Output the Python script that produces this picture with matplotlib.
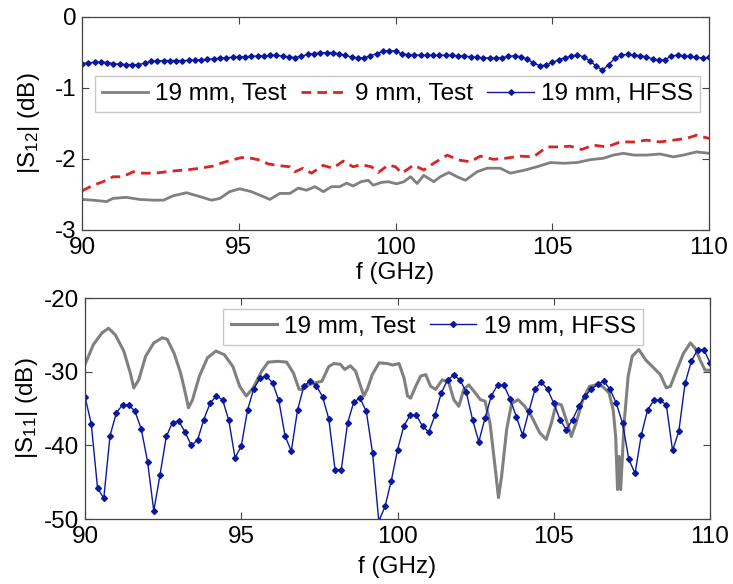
import numpy as np
import matplotlib
matplotlib.use("Agg")
import matplotlib.pyplot as plt

plt.rcParams["font.family"] = ["Liberation Sans", "DejaVu Sans"]
plt.rcParams["axes.unicode_minus"] = False
plt.rcParams["mathtext.fontset"] = "custom"
plt.rcParams["mathtext.rm"] = "Liberation Sans"
plt.rcParams["mathtext.it"] = "Liberation Sans"

# --------------------------------------------------
# |S12| data (dB)
# --------------------------------------------------
f_s12_19_test = [90.0, 90.35, 90.78, 90.99, 91.41, 91.84, 92.27, 92.6, 92.9, 93.33,
                 93.76, 94.13, 94.4, 94.71, 95.03, 95.4, 95.78, 95.99, 96.31, 96.63,
                 96.9, 97.16, 97.43, 97.7, 97.96, 98.22, 98.44, 98.65, 98.9, 99.13,
                 99.29, 99.55, 99.77, 100.03, 100.27, 100.48, 100.69, 100.9, 101.22, 101.43,
                 101.7, 101.96, 102.23, 102.6, 102.92, 103.34, 103.66, 104.09, 104.51, 104.94,
                 105.36, 105.79, 106.21, 106.63, 106.95, 107.27, 107.6, 108.0, 108.44, 108.86,
                 109.18, 109.6, 110.0]
s12_19_test = [-2.57, -2.58, -2.60, -2.555, -2.54, -2.57, -2.58, -2.58, -2.52, -2.475,
               -2.53, -2.58, -2.555, -2.46, -2.42, -2.46, -2.53, -2.57, -2.485, -2.485,
               -2.41, -2.44, -2.39, -2.46, -2.39, -2.39, -2.34, -2.38, -2.32, -2.30,
               -2.37, -2.33, -2.32, -2.35, -2.32, -2.25, -2.345, -2.23, -2.32, -2.25,
               -2.19, -2.25, -2.30, -2.18, -2.13, -2.13, -2.20, -2.16, -2.11, -2.05,
               -2.06, -2.05, -2.01, -1.99, -1.945, -1.92, -1.945, -1.945, -1.93, -1.97,
               -1.945, -1.90, -1.92]

f_s12_9_test = [90.0, 90.35, 90.67, 90.99, 91.3, 91.63, 91.95, 92.32, 92.7, 93.0,
                93.33, 93.76, 94.18, 94.5, 94.82, 95.09, 95.4, 95.67, 95.94, 96.31,
                96.63, 96.79, 97.05, 97.32, 97.69, 98.0, 98.33, 98.65, 98.9, 99.23,
                99.45, 99.77, 100.0, 100.2, 100.58, 100.9, 101.22, 101.65, 102.02, 102.39,
                102.7, 103.13, 103.5, 103.98, 104.4, 104.83, 105.2, 105.57, 105.94, 106.31,
                106.74, 107.17, 107.6, 108.0, 108.44, 108.86, 109.28, 109.6, 110.0]
s12_9_test = [-2.45, -2.37, -2.32, -2.25, -2.25, -2.18, -2.20, -2.20, -2.18, -2.165,
              -2.155, -2.13, -2.10, -2.05, -2.01, -1.98, -1.99, -2.015, -2.07, -2.095,
              -2.11, -2.18, -2.13, -2.20, -2.09, -2.13, -2.03, -2.11, -2.08, -2.11,
              -2.19, -2.085, -2.11, -2.20, -2.086, -2.155, -2.06, -1.946, -2.015, -2.04,
              -1.96, -2.005, -1.99, -1.96, -1.97, -1.83, -1.83, -1.82, -1.866, -1.805,
              -1.83, -1.76, -1.76, -1.735, -1.76, -1.735, -1.71, -1.665, -1.71]

# HFSS is sampled every 0.2 GHz
f_hfss = np.linspace(90, 110, 101)
s12_19_hfss = [-0.656, -0.645, -0.638, -0.633, -0.642, -0.656, -0.665, -0.670, -0.672, -0.670,
               -0.650, -0.624, -0.618, -0.614, -0.614, -0.614, -0.614, -0.612, -0.608, -0.603,
               -0.598, -0.590, -0.580, -0.574, -0.568, -0.563, -0.560, -0.555, -0.550, -0.546,
               -0.542, -0.540, -0.550, -0.562, -0.572, -0.550, -0.528, -0.515, -0.506, -0.502,
               -0.502, -0.520, -0.540, -0.563, -0.575, -0.575, -0.545, -0.515, -0.485, -0.472,
               -0.480, -0.520, -0.530, -0.535, -0.538, -0.540, -0.540, -0.540, -0.540, -0.542,
               -0.545, -0.550, -0.560, -0.568, -0.575, -0.577, -0.577, -0.572, -0.555, -0.545,
               -0.560, -0.590, -0.650, -0.685, -0.680, -0.640, -0.605, -0.575, -0.550, -0.535,
               -0.560, -0.620, -0.690, -0.750, -0.670, -0.580, -0.540, -0.525, -0.535, -0.545,
               -0.560, -0.590, -0.612, -0.605, -0.545, -0.540, -0.545, -0.555, -0.570, -0.577,
               -0.570]

# --------------------------------------------------
# |S11| data (dB)
# --------------------------------------------------
f_s11_19_test = [90.0, 90.27, 90.54, 90.75, 90.97, 91.24, 91.45, 91.56, 91.72, 91.94,
                 92.2, 92.47, 92.63, 92.85, 93.06, 93.23, 93.31, 93.44, 93.66, 93.92,
                 94.19, 94.46, 94.73, 94.95, 95.16, 95.38, 95.65, 95.86, 96.18, 96.45,
                 96.67, 96.85, 96.96, 97.15, 97.37, 97.58, 97.8, 97.96, 98.17, 98.31,
                 98.49, 98.66, 98.82, 98.92, 99.03, 99.19, 99.41, 99.68, 99.84, 100.05,
                 100.21, 100.32, 100.42, 100.58, 100.74, 100.9, 101.06, 101.22, 101.43, 101.64,
                 101.8, 101.96, 102.12, 102.28, 102.49, 102.65, 102.8, 102.96, 103.12, 103.23,
                 103.33, 103.49, 103.65, 103.86, 104.07, 104.29, 104.55, 104.76, 104.92, 105.08,
                 105.24, 105.45, 105.56, 105.71, 105.93, 106.14, 106.35, 106.56, 106.77, 106.9,
                 106.98, 107.04, 107.09, 107.14, 107.25, 107.38, 107.51, 107.72, 107.94, 108.2,
                 108.41, 108.6, 108.73, 108.94, 109.15, 109.37, 109.52, 109.68, 109.84, 110.0]
s11_19_test = [-29.0, -26.3, -24.75, -24.1, -25.0, -27.2, -30.2, -32.2, -31.1, -27.9,
               -26.1, -25.4, -25.6, -27.5, -30.2, -33.3, -34.9, -33.8, -30.6, -28.1,
               -27.2, -27.7, -29.3, -32.0, -33.3, -32.2, -29.95, -28.7, -28.6, -28.7,
               -30.2, -32.4, -32.4, -31.8, -31.5, -31.3, -29.3, -28.9, -29.0, -29.7,
               -29.2, -29.95, -32.0, -33.3, -32.4, -30.4, -28.8, -28.9, -29.1, -28.9,
               -30.9, -33.3, -33.6, -32.0, -30.6, -30.4, -32.0, -32.4, -31.1, -31.5,
               -33.8, -34.7, -32.4, -31.8, -32.9, -33.8, -34.0, -37.0, -42.9, -47.1,
               -44.2, -37.9, -34.3, -33.8, -34.7, -36.1, -38.3, -39.2, -37.0, -34.3,
               -34.5, -37.2, -38.8, -37.0, -33.8, -32.0, -31.8, -32.0, -32.9, -35.2,
               -38.8, -46.0, -41.5, -46.0, -37.0, -30.6, -27.9, -27.0, -28.4, -29.5,
               -30.4, -32.2, -32.0, -29.7, -27.5, -26.1, -26.8, -28.4, -29.8, -29.8]

s11_19_hfss = [-33.4, -37.1, -45.8, -47.2, -38.7, -35.6, -34.5, -34.5, -35.4, -37.8,
               -42.2, -48.9, -44.0, -38.8, -36.9, -36.7, -38.2, -40.0, -39.3, -36.5,
               -34.3, -33.3, -33.8, -36.6, -41.7, -40.1, -35.2, -32.3, -30.9, -30.6,
               -31.5, -33.9, -38.7, -40.8, -35.2, -32.0, -31.2, -31.9, -33.4, -36.4,
               -43.3, -43.3, -37.0, -34.1, -33.6, -35.4, -41.0, -50.3, -48.3, -44.8,
               -40.6, -37.4, -35.9, -35.9, -37.4, -38.2, -35.9, -32.9, -31.1, -30.5,
               -31.1, -32.8, -36.5, -39.5, -36.3, -33.3, -31.8, -31.8, -33.7, -36.1,
               -38.6, -35.4, -32.4, -31.4, -32.4, -34.3, -36.5, -37.9, -36.5, -34.7,
               -33.3, -32.4, -31.7, -31.3, -32.4, -34.3, -37.0, -41.9, -43.8, -38.6,
               -35.2, -33.9, -33.9, -34.5, -40.7, -38.1, -31.6, -28.6, -27.0, -27.0,
               -28.8]

GRAY = "#808080"
RED = "#d92424"
BLUE = "#0a18a0"
FS = 17.5


def style_axes(ax, xlabelpad):
    ax.set_xlim(90, 110)
    ax.set_xticks([90, 95, 100, 105, 110])
    ax.tick_params(direction="in", top=True, right=True, length=5, width=0.8,
                   labelsize=FS, color="#444444")
    ax.tick_params(axis="x", pad=5)
    ax.tick_params(axis="y", pad=4)
    for s in ax.spines.values():
        s.set_color("#444444")
        s.set_linewidth(0.9)
    ax.set_xlabel("f (GHz)", fontsize=FS, labelpad=xlabelpad)


fig = plt.figure(figsize=(7.33, 5.84), dpi=100)

# --------------------------------------------------
# Top: |S12|
# --------------------------------------------------
ax1 = fig.add_axes([0.1119, 0.6062, 0.8554, 0.3647])
ax1.plot(f_s12_19_test, s12_19_test, color=GRAY, lw=2.0, label="19 mm, Test")
ax1.plot(f_s12_9_test, s12_9_test, color=RED, lw=2.0, dashes=(3.5, 2.2), label="9 mm, Test")
ax1.plot(f_hfss, s12_19_hfss, color=BLUE, lw=1.0, marker="D", ms=2.8,
         label="19 mm, HFSS")
style_axes(ax1, 2)
ax1.set_ylim(-3, 0)
ax1.set_yticks([0, -1, -2, -3])
ax1.set_ylabel("|S$_{12}$| (dB)", fontsize=FS)
ax1.yaxis.set_label_coords(-0.064, 0.5)
leg1 = ax1.legend(loc="center", bbox_to_anchor=(0.503, 0.638), ncol=3, fontsize=FS,
                  handlelength=1.9, handletextpad=0.3, columnspacing=0.6,
                  borderpad=0.3, borderaxespad=0, fancybox=False, framealpha=1)
leg1.get_frame().set_edgecolor("#c8c8c8")

# --------------------------------------------------
# Bottom: |S11|
# --------------------------------------------------
ax2 = fig.add_axes([0.116, 0.1113, 0.8527, 0.3784])
ax2.plot(f_s11_19_test, s11_19_test, color=GRAY, lw=2.2, label="19 mm, Test")
ax2.plot(f_hfss, s11_19_hfss, color=BLUE, lw=1.0, marker="D", ms=3.0,
         label="19 mm, HFSS")
style_axes(ax2, 6)
ax2.set_ylim(-50, -20)
ax2.set_yticks([-20, -30, -40, -50])
ax2.set_ylabel("|S$_{11}$| (dB)", fontsize=FS)
ax2.yaxis.set_label_coords(-0.072, 0.5)
leg2 = ax2.legend(loc="center", bbox_to_anchor=(0.557, 0.869), ncol=2, fontsize=FS,
                  handlelength=1.9, handletextpad=0.3, columnspacing=0.6,
                  borderpad=0.3, borderaxespad=0, fancybox=False, framealpha=1)
leg2.get_frame().set_edgecolor("#c8c8c8")

fig.savefig("out.png", dpi=100)
